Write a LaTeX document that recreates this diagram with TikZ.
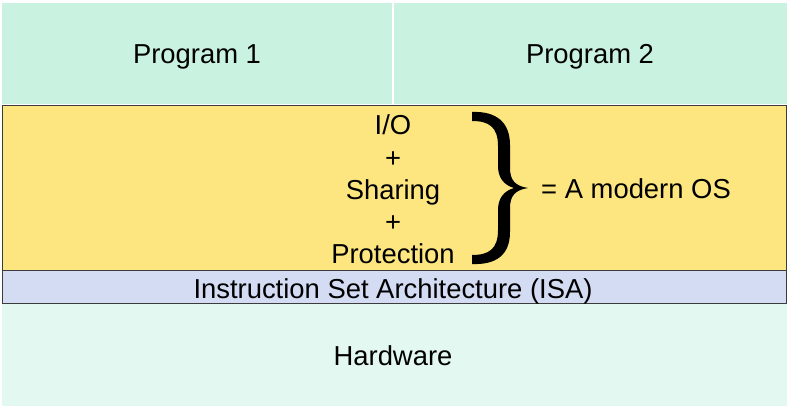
\documentclass[tikz,border=0pt]{standalone}
\usepackage{fontspec}
\setmainfont{Liberation Sans}
\definecolor{progc}{RGB}{201,243,224}
\definecolor{osc}{RGB}{253,229,128}
\definecolor{isac}{RGB}{212,220,244}
\definecolor{hwc}{RGB}{227,248,240}
\definecolor{edgec}{RGB}{60,60,60}
\tikzset{
  lbl/.style={inner sep=0pt, anchor=base, font=\fontsize{27.4}{32}\selectfont},
  band/.style={draw=edgec, line width=0.9pt}
}
\begin{document}
\begin{tikzpicture}[x=1pt,y=-1pt]
\useasboundingbox (0,0) rectangle (789,409);
\fill[white] (0,0) rectangle (789,409);
% layers
\fill[progc] (2,3) rectangle (392,104);
\fill[progc] (394,3) rectangle (787,104);
\fill[hwc] (2,304) rectangle (787,406);
\filldraw[fill=osc, band] (2,105) rectangle (786,270);
\filldraw[fill=isac, band] (2,270) rectangle (786,303);
% texts
\node[lbl] (p1) at (197,64) {Program 1};
\node[lbl] (p2) at (590,64) {Program 2};
\node[lbl] (io) at (393,135) {I/O};
\node[lbl] (plus1) at (393,167) {+};
\node[lbl] (sh) at (393,199) {Sharing};
\node[lbl] (plus2) at (393,231) {+};
\node[lbl] (pr) at (393,263) {Protection};
\node[lbl, anchor=base west] (os) at (541,198) {= A modern OS};
\node[lbl] (isa) at (393,298) {Instruction Set Architecture (ISA)};
\node[lbl] (hw) at (393,365) {Hardware};
% brace
\fill[black] (472,112) .. controls (496,111) and (510,122) .. (510,145)
  -- (510,168) .. controls (510,180) and (515,186) .. (528,188)
  .. controls (515,190) and (510,196) .. (510,208)
  -- (510,232) .. controls (510,255) and (496,265) .. (472,264)
  -- (472,255) .. controls (489,255) and (498,249) .. (498,230)
  -- (498,210) .. controls (498,198) and (504,191) .. (514,188)
  .. controls (504,185) and (498,178) .. (498,166)
  -- (498,146) .. controls (498,127) and (489,121) .. (472,121) -- cycle;
\end{tikzpicture}
\end{document}
